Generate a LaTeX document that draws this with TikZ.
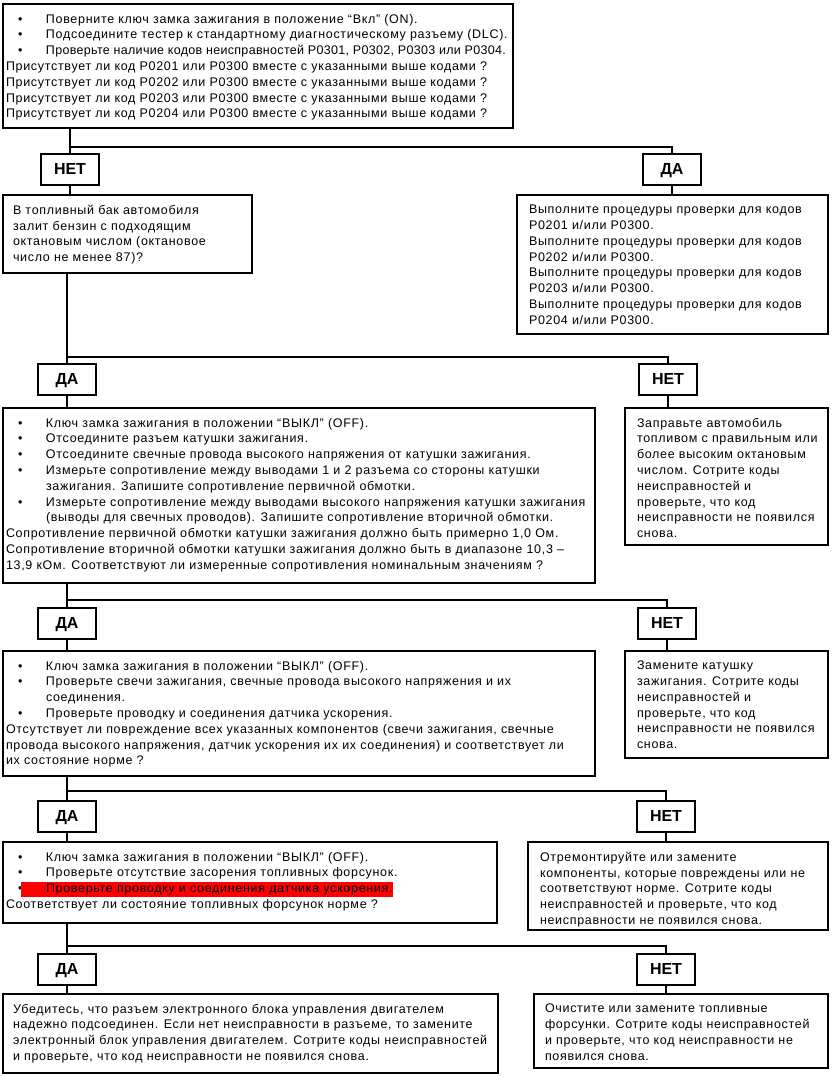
\documentclass[tikz,border=0pt]{standalone}
\usepackage{fontspec}
\setmainfont{Liberation Sans}[LetterSpace=5.5]
\newfontfamily\labfont{Liberation Sans}
\usetikzlibrary{calc}
\newcommand{\bul}{\par\noindent\hangindent=40pt\hangafter=1\makebox[40pt][l]{\hspace{12pt}\textbullet}}
\newcommand{\bx}[4]{\begin{minipage}[t][#2][t]{#1}\fontsize{12.5}{15.8}\selectfont\raggedright\parindent=0pt\leftskip=#3\vspace*{10pt}#4\end{minipage}}
\tikzset{
  box/.style={draw, line width=2pt, anchor=north west, inner ysep=0pt, inner xsep=3pt},
  lab/.style={draw, line width=2pt, minimum width=58pt, minimum height=31pt, inner sep=0pt, text height=11.5pt, text depth=0pt, font=\labfont\fontsize{16}{18}\selectfont\bfseries},
  conn/.style={line width=2pt}
}
\begin{document}
\begin{tikzpicture}[x=1pt,y=-1pt]
\useasboundingbox (0,0) rectangle (831,1077);
% boxes
\node[box] (top) at (2,3) {\bx{504pt}{124pt}{0pt}{%
\bul \mbox{Поверните ключ замка зажигания в положение “Вкл” (ON).}
\bul \mbox{Подсоедините тестер к стандартному диагностическому разъему (DLC).}
\bul \mbox{\addfontfeature{LetterSpace=2.5}Проверьте наличие кодов неисправностей P0301, P0302, P0303 или P0304.}\par
\mbox{Присутствует ли код P0201 или P0300 вместе с указанными выше кодами ?}\\
\mbox{Присутствует ли код P0202 или P0300 вместе с указанными выше кодами ?}\\
\mbox{Присутствует ли код P0203 или P0300 вместе с указанными выше кодами ?}\\
\mbox{Присутствует ли код P0204 или P0300 вместе с указанными выше кодами ?}}};
\node[box] (q2) at (2,194) {\bx{243pt}{78pt}{7pt}{%
В топливный бак автомобиля\\ залит бензин с подходящим\\ октановым числом (октановое\\ число не менее 87)?}};
\node[box] (a1) at (516,194) {\bx{305pt}{139pt}{9pt}{%
Выполните процедуры проверки для кодов\\ P0201 и/или P0300.\\
Выполните процедуры проверки для кодов\\ P0202 и/или P0300.\\
Выполните процедуры проверки для кодов\\ P0203 и/или P0300.\\
Выполните процедуры проверки для кодов\\ P0204 и/или P0300.}};
\node[box] (q3) at (2,407) {\bx{586pt}{175pt}{0pt}{%
\bul Ключ замка зажигания в положении “ВЫКЛ” (OFF).
\bul Отсоедините разъем катушки зажигания.
\bul Отсоедините свечные провода высокого напряжения от катушки зажигания.
\bul \mbox{Измерьте сопротивление между выводами 1 и 2 разъема со стороны катушки}\newline зажигания. Запишите сопротивление первичной обмотки.
\bul \mbox{Измерьте сопротивление между выводами высокого напряжения катушки зажигания}\newline (выводы для свечных проводов). Запишите сопротивление вторичной обмотки.\par
\mbox{Сопротивление первичной обмотки катушки зажигания должно быть примерно 1,0 Ом.}\\
\mbox{Сопротивление вторичной обмотки катушки зажигания должно быть в диапазоне 10,3 –}\\
\mbox{13,9 кОм. Соответствуют ли измеренные сопротивления номинальным значениям ?}}};
\node[box] (fuel) at (624,407) {\bx{197pt}{137pt}{9pt}{%
Заправьте автомобиль\\ топливом с правильным или\\ более высоким октановым\\ числом. Сотрите коды\\ неисправностей и\\ проверьте, что код\\ неисправности не появился\\ снова.}};
\node[box] (q4) at (2,650) {\bx{586pt}{125pt}{0pt}{%
\bul Ключ замка зажигания в положении “ВЫКЛ” (OFF).
\bul \mbox{Проверьте свечи зажигания, свечные провода высокого напряжения и их}\newline соединения.
\bul Проверьте проводку и соединения датчика ускорения.\par
\mbox{Отсутствует ли повреждение всех указанных компонентов (свечи зажигания, свечные}\\
\mbox{провода высокого напряжения, датчик ускорения их их соединения) и соответствует ли}\\
их состояние норме ?}};
\node[box] (coil) at (624,650) {\bx{197pt}{107pt}{9pt}{%
Замените катушку\\ зажигания. Сотрите коды\\ неисправностей и\\ проверьте, что код\\ неисправности не появился\\ снова.}};
\node[box] (q5) at (2,841) {\bx{488pt}{81pt}{0pt}{%
\bul Ключ замка зажигания в положении “ВЫКЛ” (OFF).
\bul Проверьте отсутствие засорения топливных форсунок.
\par\noindent\makebox[15pt][l]{\hspace{12pt}\textbullet}{\fboxsep=0pt\colorbox{red}{\strut\hspace{25pt}Проверьте проводку и соединения датчика ускорения.}}\par
Соответствует ли состояние топливных форсунок норме ?}};
\node[box] (rep) at (527,841) {\bx{294pt}{88pt}{9pt}{%
Отремонтируйте или замените\\ компоненты, которые повреждены или не\\ соответствуют норме. Сотрите коды\\ неисправностей и проверьте, что код\\ неисправности не появился снова.}};
\node[box] (f1) at (2,993) {\bx{489pt}{79pt}{7pt}{%
\mbox{Убедитесь, что разъем электронного блока управления двигателем}\\ \mbox{надежно подсоединен. Если нет неисправности в разъеме, то замените}\\ \mbox{электронный блок управления двигателем. Сотрите коды неисправностей}\\ и проверьте, что код неисправности не появился снова.}};
\node[box] (f2) at (533,993) {\bx{288pt}{74pt}{8pt}{%
Очистите или замените топливные\\ \mbox{форсунки. Сотрите коды неисправностей}\\ и проверьте, что код неисправности не\\ появился снова.}};
% labels
\node[lab] (l1) at (70,169) {НЕТ};
\node[lab] (r1) at (672,169) {ДА};
\node[lab] (l2) at (67,379) {ДА};
\node[lab] (r2) at (668,379) {НЕТ};
\node[lab] (l3) at (67,623) {ДА};
\node[lab] (r3) at (667,623) {НЕТ};
\node[lab] (l4) at (67,816) {ДА};
\node[lab] (r4) at (666,816) {НЕТ};
\node[lab] (l5) at (67,969) {ДА};
\node[lab] (r5) at (666,969) {НЕТ};
% connectors
\draw[conn] (top.south -| l1.north) -- (l1.north);
\draw[conn] (l1.north |- 0,147) -| (r1.north);
\draw[conn] (l1.south) -- (l1.south |- q2.north);
\draw[conn] (r1.south) -- (r1.south |- a1.north);
\draw[conn] (q2.south -| l2.north) -- (l2.north);
\draw[conn] (l2.north |- 0,357) -| (r2.north);
\draw[conn] (l2.south) -- (l2.south |- q3.north);
\draw[conn] (r2.south) -- (r2.south |- fuel.north);
\draw[conn] (q3.south -| l3.north) -- (l3.north);
\draw[conn] (l3.north |- 0,600) -| (r3.north);
\draw[conn] (l3.south) -- (l3.south |- q4.north);
\draw[conn] (r3.south) -- (r3.south |- coil.north);
\draw[conn] (q4.south -| l4.north) -- (l4.north);
\draw[conn, line width=2.6pt] (l4.north |- 0,791) -| (r4.north);
\draw[conn] (l4.south) -- (l4.south |- q5.north);
\draw[conn] (r4.south) -- (r4.south |- rep.north);
\draw[conn] (q5.south -| l5.north) -- (l5.north);
\draw[conn] (l5.north |- 0,946) -| (r5.north);
\draw[conn] (l5.south) -- (l5.south |- f1.north);
\draw[conn] (r5.south) -- (r5.south |- f2.north);
\end{tikzpicture}
\end{document}
